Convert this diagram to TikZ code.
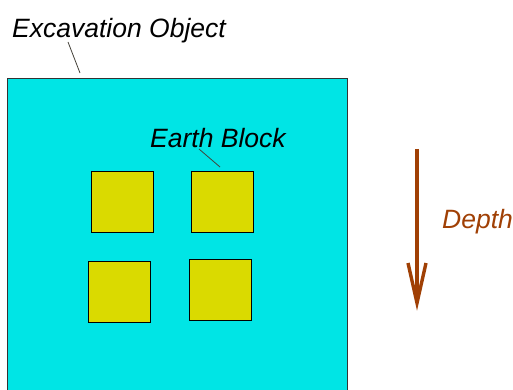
\documentclass[tikz,border=0pt]{standalone}
\usepackage{fontspec}
\setmainfont{Liberation Sans}
\definecolor{exccyan}{RGB}{0,229,229}
\definecolor{blockyellow}{RGB}{218,218,0}
\definecolor{depthbrown}{RGB}{160,64,5}
\begin{document}
\begin{tikzpicture}[x=1pt,y=-1pt,
  label text/.style={font=\fontsize{26.5}{29}\selectfont\itshape, inner sep=0pt, anchor=base west},
  excbox/.style={draw=black!80, line width=0.9pt, fill=exccyan, inner sep=0pt, anchor=north west,
    minimum width=340pt, minimum height=320pt},
  earthblock/.style={draw=black, line width=1.2pt, fill=blockyellow, inner sep=0pt, anchor=north west,
    minimum width=62pt, minimum height=61pt},
  leader/.style={draw=black!85!yellow, line width=0.8pt}]
  \useasboundingbox (0,0) rectangle (513,390);
  \clip (0,0) rectangle (513,390);

  % excavation area (runs past the lower edge)
  \node[excbox] (exc) at (7,78) {};

  % earth blocks
  \node[earthblock] (b1) at (91,171) {};
  \node[earthblock] (b2) at (191,171) {};
  \node[earthblock] (b3) at (88,261) {};
  \node[earthblock] (b4) at (189,259) {};

  % labels with leader lines
  \node[label text] (lexc) at (12,38) {Excavation Object};
  \coordinate (lexcend) at (80,73);
  \draw[leader] (68,42) -- (lexcend);

  \node[label text] (lblock) at (150,147) {Earth Block};
  \coordinate (lblockend) at (220,167);
  \draw[leader] (199,149) -- (lblockend);

  % depth arrow
  \coordinate (dtop) at (417,149);
  \coordinate (dtip) at (417,303);
  \draw[depthbrown, line width=3.6pt] (dtop) -- (dtip);
  \draw[depthbrown, line width=3.4pt, miter limit=20] (408,263) -- (dtip) -- (426,263);
  \node[label text, text=depthbrown] (ldepth) at (442,228) {Depth};
\end{tikzpicture}
\end{document}
